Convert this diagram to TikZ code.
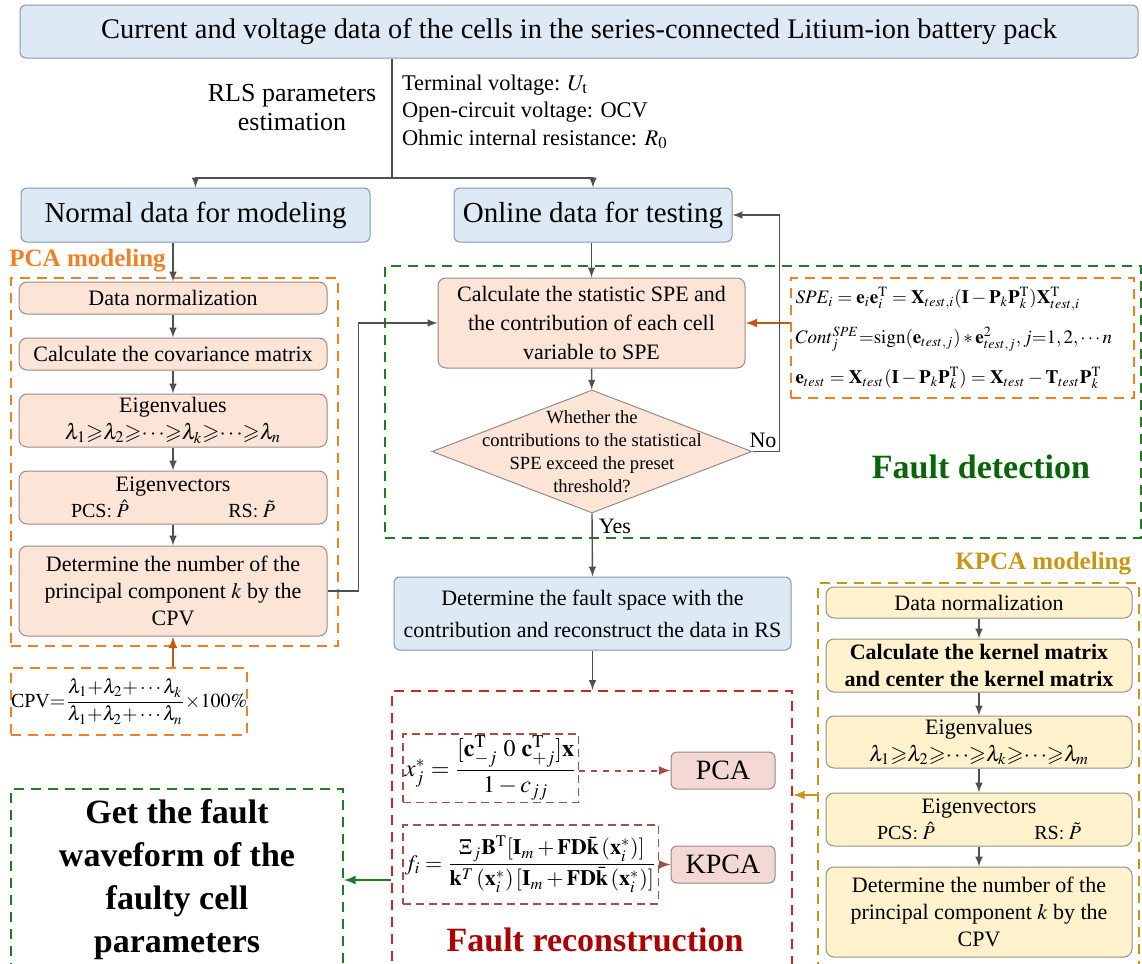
\documentclass[tikz,border=0pt]{standalone}
\usepackage{amsmath,amssymb}
\usepackage{mathptmx}
\usepackage{fontspec}
\setmainfont{Liberation Serif}
\usetikzlibrary{shapes.geometric}

\definecolor{boxblue}{RGB}{221,233,245}
\definecolor{blueline}{RGB}{135,150,170}
\definecolor{boxpeach}{RGB}{252,228,214}
\definecolor{peachline}{RGB}{150,140,135}
\definecolor{boxyellow}{RGB}{255,242,204}
\definecolor{yellowline}{RGB}{150,145,130}
\definecolor{boxpink}{RGB}{244,216,212}
\definecolor{pinkline}{RGB}{150,135,135}
\definecolor{linkgray}{RGB}{80,80,80}
\definecolor{pcaorange}{RGB}{240,128,40}
\definecolor{arroworange}{RGB}{195,90,20}
\definecolor{detgreen}{RGB}{30,125,30}
\definecolor{detgreentext}{RGB}{10,100,10}
\definecolor{reconred}{RGB}{200,40,40}
\definecolor{recontext}{RGB}{170,0,0}
\definecolor{formbrown}{RGB}{165,80,70}
\definecolor{kpcagold}{RGB}{200,150,20}

\begin{document}
\begin{tikzpicture}[x=0.5pt,y=-0.5pt,
    bluebox/.style={draw=blueline,fill=boxblue,rounded corners=3pt,line width=0.5pt,align=center,inner sep=1pt},
    peachbox/.style={draw=peachline,fill=boxpeach,rounded corners=4pt,line width=0.5pt,align=center,inner sep=1pt,font=\fontsize{11}{13.3}\selectfont},
    yellowbox/.style={peachbox,draw=yellowline,fill=boxyellow},
    pinkbox/.style={draw=pinkline,fill=boxpink,rounded corners=3pt,line width=0.5pt,font=\fontsize{14}{16}\selectfont},
    zone/.style={draw=#1,dash pattern=on 5pt off 3.5pt,line width=1pt,inner sep=0pt},
    formzone/.style={draw=formbrown,dash pattern=on 4pt off 2.5pt,line width=0.8pt,inner sep=1pt},
    decision/.style={diamond,draw=peachline,fill=boxpeach,line width=0.5pt,inner sep=0pt,minimum width=160pt,minimum height=61.5pt},
    link/.style={draw=linkgray,line width=0.7pt},
    orangelink/.style={draw=arroworange,line width=1pt},
    goldlink/.style={draw=kpcagold,line width=1pt},
    greenlink/.style={draw=detgreen,line width=1pt},
    brownlink/.style={draw=formbrown,line width=1pt}]

    \useasboundingbox (0,0) rectangle (1142,964);

    % data source
    \node[bluebox,minimum width=559pt,minimum height=26.5pt,font=\fontsize{14.2}{16}\selectfont] (source) at (579,31.5)
        {Current and voltage data of the cells in the series-connected Litium-ion battery pack};
    \node[bluebox,minimum width=174.5pt,minimum height=27pt,font=\fontsize{14.5}{17}\selectfont] (normal) at (195.5,215)
        {Normal data for modeling};
    \node[bluebox,minimum width=139pt,minimum height=27pt,font=\fontsize{14.5}{17}\selectfont] (online) at (593,215)
        {Online data for testing};
    \coordinate (split) at (392,178);
    \draw[link] (source.south -| split) -- (split);
    \draw[link,-latex] (split) -| (normal.north);
    \draw[link,-latex] (split) -| (online.north);
    \node[align=center,font=\fontsize{13}{14.5}\selectfont] (rls) at (292,108)
        {RLS parameters\\estimation};
    \node[align=left,anchor=west,font=\fontsize{11.2}{13.75}\selectfont] (params) at (395,112)
        {Terminal voltage: $U_{\mathrm{t}}$\\Open-circuit voltage: OCV\\Ohmic internal resistance: $R_0$};

    % PCA modeling
    \node[zone=pcaorange,minimum width=163.5pt,minimum height=184pt,anchor=north west] (pcazone) at (10,277) {};
    \node[anchor=south west,inner sep=0pt,text=pcaorange,font=\bfseries\fontsize{12.5}{14}\selectfont] (pcatitle) at (9,272)
        {PCA modeling};
    \node[peachbox,minimum width=154pt,minimum height=16pt] (pnorm) at (173,298) {Data normalization};
    \node[peachbox,minimum width=154pt,minimum height=16pt] (pcov) at (173,354) {Calculate the covariance matrix};
    \node[peachbox,minimum width=154pt,minimum height=26.5pt] (peig) at (173,420.5)
        {Eigenvalues\\$\lambda_1{\geqslant}\lambda_2{\geqslant}{\cdots}{\geqslant}\lambda_k{\geqslant}{\cdots}{\geqslant}\lambda_n$};
    \node[peachbox,minimum width=154pt,minimum height=26.5pt] (pvec) at (173,497.5)
        {Eigenvectors\\{\fontsize{10}{12}\selectfont\makebox[102pt]{PCS$:\hat{P}$\hfill RS$:\tilde{P}$}}};
    \node[peachbox,minimum width=154pt,minimum height=45pt] (pdet) at (173,591)
        {Determine the number of the\\principal component $k$ by the\\CPV};
    \draw[link,-latex] (normal.south -| pnorm) -- (pnorm.north);
    \draw[link,-latex] (pnorm) -- (pcov);
    \draw[link,-latex] (pcov) -- (peig);
    \draw[link,-latex] (peig) -- (pvec);
    \draw[link,-latex] (pvec) -- (pdet);
    \node[zone=pcaorange,minimum width=118pt,minimum height=33.5pt,anchor=north west,font=\fontsize{10}{13}\selectfont] (cpv) at (10,667)
        {CPV${=}\dfrac{\lambda_1{+}\lambda_2{+}\cdots\lambda_k}{\lambda_1{+}\lambda_2{+}\cdots\lambda_n}{\times}100\%$};
    \draw[orangelink,-latex] (cpv.north -| pdet) -- (pdet.south);

    % fault detection
    \node[zone=detgreen,minimum width=378pt,minimum height=136pt,anchor=north west] (detzone) at (384,265) {};
    \node[peachbox,minimum width=153.5pt,minimum height=45pt,font=\fontsize{11}{14.5}\selectfont] (spe) at (591.5,323)
        {Calculate the statistic SPE and\\the contribution of each cell\\variable to SPE};
    \node[decision] (check) at (592,451.5) {};
    \node[align=center,font=\fontsize{9.3}{11.5}\selectfont] (checktext) at (check)
        {Whether the\\contributions to the statistical\\SPE exceed the preset\\threshold?};
    \node[zone=pcaorange,minimum width=171.5pt,minimum height=60pt,text width=167pt,inner sep=2pt,align=left,anchor=north west,font=\fontsize{9.5}{20}\selectfont] (speform) at (790,277)
        {\mbox{$SPE_i=\mathbf{e}_i\mathbf{e}_i^{\mathrm{T}}=\mathbf{X}_{test,i}(\mathbf{I}-\mathbf{P}_k\mathbf{P}_k^{\mathrm{T}})\mathbf{X}_{test,i}^{\mathrm{T}}$}\\
         \mbox{$Cont_j^{SPE}{=}\mathrm{sign}(\mathbf{e}_{test,j})*\mathbf{e}_{test,j}^2,j{=}1,2,\cdots n$}\\
         \mbox{$\mathbf{e}_{test}=\mathbf{X}_{test}(\mathbf{I}-\mathbf{P}_k\mathbf{P}_k^{\mathrm{T}})=\mathbf{X}_{test}-\mathbf{T}_{test}\mathbf{P}_k^{\mathrm{T}}$}};
    \node[text=detgreentext,font=\bfseries\fontsize{17}{20}\selectfont] (dettitle) at (981,467) {Fault detection};
    \draw[link,-latex] (online.south -| spe.north) -- (spe.north);
    \draw[link,-latex] (pdet.east) -- ++(31,0) |- (spe.west);
    \draw[orangelink,-latex] (speform.west |- spe) -- (spe.east);
    \draw[link,-latex] (spe) -- (check);
    \draw[link,-latex] (check.east) -- ++(27,0) |- (online.east);
    \node[font=\fontsize{11}{13}\selectfont] (nolabel) at (763,440) {No};
    \node[font=\fontsize{11}{13}\selectfont] (yeslabel) at (615,526) {Yes};

    % fault reconstruction
    \node[bluebox,minimum width=198.5pt,minimum height=36.5pt,font=\fontsize{11}{16}\selectfont] (faultspace) at (592.5,613.5)
        {Determine the fault space with the\\contribution and reconstruct the data in RS};
    \draw[link,-latex] (check.south) -- (faultspace.north);
    \node[zone=reconred,minimum width=200pt,minimum height=150pt,anchor=north west] (reconzone) at (391,690) {};
    \draw[link,-latex] (faultspace.south) -- (faultspace.south |- reconzone.north);
    \node[formzone,minimum width=79.5pt,minimum height=34pt,anchor=north west,font=\fontsize{12}{14}\selectfont] (xform) at (402,733)
        {$x_j^*=\dfrac{[\mathbf{c}_{-j}^{\mathrm{T}}\ 0\ \mathbf{c}_{+j}^{\mathrm{T}}]\mathbf{x}}{1-c_{jj}}$};
    \node[formzone,minimum width=121pt,minimum height=39.5pt,anchor=north west,font=\fontsize{11}{13}\selectfont] (fform) at (402,824)
        {$f_i=\dfrac{\Xi_j\mathbf{B}^{\mathrm{T}}[\mathbf{I}_m+\mathbf{FD}\bar{\mathbf{k}}\left(\mathbf{x}_i^*\right)]}{\mathbf{k}^T\left(\mathbf{x}_i^*\right)[\mathbf{I}_m+\mathbf{FD}\bar{\mathbf{k}}\left(\mathbf{x}_i^*\right)]}$};
    \node[pinkbox,minimum width=52pt,minimum height=18.5pt] (pcaout) at (723,770.5) {PCA};
    \node[pinkbox,minimum width=52pt,minimum height=18.5pt] (kpcaout) at (723,864.5) {KPCA};
    \draw[brownlink,dashed,-latex] (xform.east |- pcaout) -- (pcaout.west);
    \draw[brownlink,-latex] (fform.east |- kpcaout) -- (kpcaout.west);
    \node[text=recontext,font=\bfseries\fontsize{17}{20}\selectfont] (recontitle) at (595,940) {Fault reconstruction};

    % KPCA modeling
    \node[zone=kpcagold,minimum width=160.5pt,minimum height=212pt,anchor=north west] (kpcazone) at (817,582) {};
    \node[anchor=south west,inner sep=0pt,text=kpcagold,font=\bfseries\fontsize{12.5}{14}\selectfont] (kpcatitle) at (955,575)
        {KPCA modeling};
    \node[yellowbox,minimum width=153pt,minimum height=15.5pt] (knorm) at (979,602.5) {Data normalization};
    \node[yellowbox,minimum width=153pt,minimum height=26.5pt,font=\bfseries\fontsize{11}{13.3}\selectfont] (kker) at (979,665.5)
        {Calculate the kernel matrix\\and center the kernel matrix};
    \node[yellowbox,minimum width=153pt,minimum height=26pt] (keig) at (979,742)
        {Eigenvalues\\$\lambda_1{\geqslant}\lambda_2{\geqslant}{\cdots}{\geqslant}\lambda_k{\geqslant}{\cdots}{\geqslant}\lambda_m$};
    \node[yellowbox,minimum width=153pt,minimum height=26.5pt] (kvec) at (979,819.5)
        {Eigenvectors\\{\fontsize{10}{12}\selectfont\makebox[102pt]{PCS$:\hat{P}$\hfill RS$:\tilde{P}$}}};
    \node[yellowbox,minimum width=153pt,minimum height=45pt] (kdet) at (979,912)
        {Determine the number of the\\principal component $k$ by the\\CPV};
    \draw[link,-latex] (knorm) -- (kker);
    \draw[link,-latex] (kker) -- (keig);
    \draw[link,-latex] (keig) -- (kvec);
    \draw[link,-latex] (kvec) -- (kdet);
    \draw[goldlink,-latex] (kpcazone.west) -- (reconzone.east |- kpcazone.west);

    % result
    \node[zone=detgreen,minimum width=166pt,minimum height=91pt,anchor=north west,align=center,font=\bfseries\fontsize{17}{21.5}\selectfont] (resultzone) at (10,788)
        {Get the fault\\waveform of the\\faulty cell\\parameters};
    \draw[greenlink,-latex] (reconzone.west |- resultzone.east) -- (resultzone.east);
\end{tikzpicture}
\end{document}
